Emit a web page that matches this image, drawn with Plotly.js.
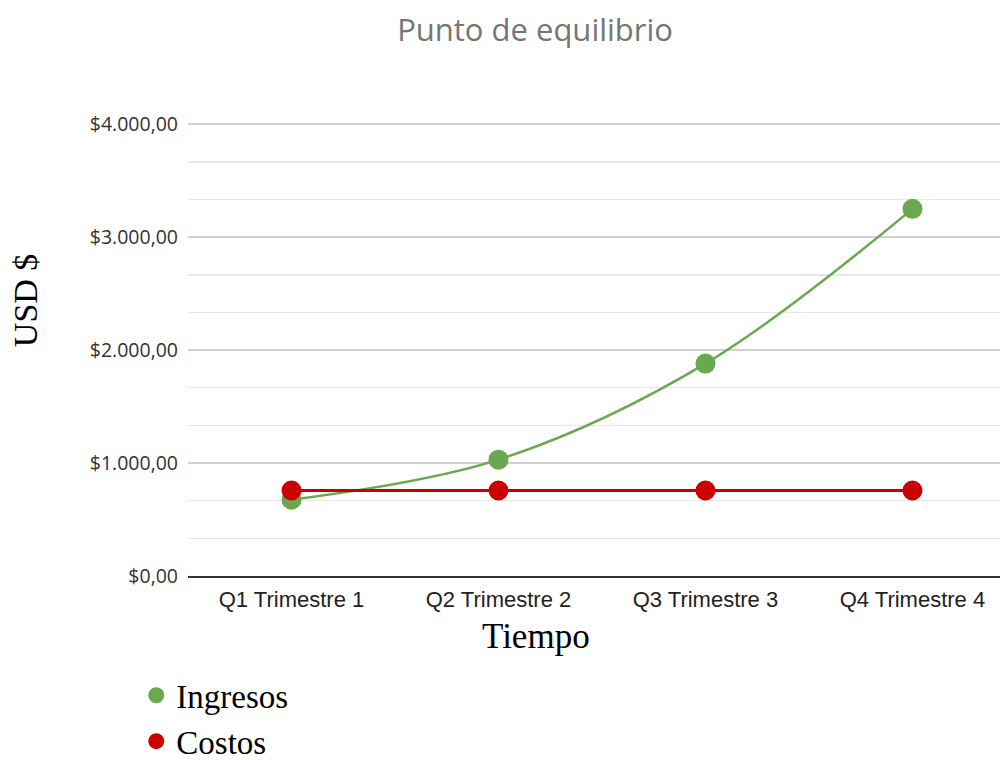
<!DOCTYPE html>
<html>
<head>
<meta charset="utf-8">
<script src="https://cdn.plot.ly/plotly-3.0.1.min.js"></script>
<style>
  html, body { margin: 0; padding: 0; background: #fff; }
  #chart { width: 1002px; height: 760px; }
</style>
</head>
<body>
<div id="chart"></div>
<script>
// Quarterly revenue vs. fixed costs (USD)
const quarters = ['Q1 Trimestre 1', 'Q2 Trimestre 2', 'Q3 Trimestre 3', 'Q4 Trimestre 4'];
const ingresos = [675, 1030, 1880, 3250];
const costos = [757, 757, 757, 757];
const yTickVals = [0, 1000, 2000, 3000, 4000];
const yTickText = ['$0,00', '$1.000,00', '$2.000,00', '$3.000,00', '$4.000,00'];

const GREEN = '#6aa84f';
const RED = '#cc0000';
const SERIF = '"Liberation Serif", "Times New Roman", serif';

const traces = [
  { x: quarters, y: ingresos, type: 'scatter', mode: 'lines', name: 'Ingresos',
    line: { color: GREEN, width: 2.5, shape: 'spline', smoothing: 1 }, showlegend: false, hoverinfo: 'skip' },
  { x: quarters, y: costos, type: 'scatter', mode: 'lines', name: 'Costos',
    line: { color: RED, width: 3 }, showlegend: false, hoverinfo: 'skip' },
  { x: quarters, y: ingresos, type: 'scatter', mode: 'markers', name: 'Ingresos',
    marker: { color: GREEN, size: 20 } },
  { x: quarters, y: costos, type: 'scatter', mode: 'markers', name: 'Costos',
    marker: { color: RED, size: 20 } }
];

const layout = {
  width: 1002, height: 760,
  margin: { l: 188, r: 2, t: 123, b: 184, autoexpand: false },
  paper_bgcolor: '#fff', plot_bgcolor: '#fff',
  title: { text: 'Punto de equilibrio', x: 0.534, xanchor: 'center', y: 0.96, yanchor: 'middle',
    font: { family: '"Open Sans", sans-serif', size: 31, color: '#757575' } },
  xaxis: {
    type: 'category', range: [-0.5, 3.423], automargin: false,
    showgrid: false, zeroline: false, showline: true, linecolor: '#333', linewidth: 1.5,
    ticks: '', ticklabelstandoff: 3,
    tickfont: { family: '"Liberation Sans", Arial, sans-serif', size: 22, color: '#222' }
  },
  yaxis: {
    range: [0, 4010], tickmode: 'array', tickvals: yTickVals, ticktext: yTickText, automargin: false,
    showgrid: true, gridcolor: '#d0d0d0', gridwidth: 1.5, zeroline: false,
    ticks: '', ticklabelstandoff: 9,
    tickfont: { family: '"Open Sans", sans-serif', size: 19.5, color: '#333' },
    minor: { tickmode: 'linear', tick0: 0, dtick: 1000 / 3, showgrid: true, gridcolor: '#e8e8e8', gridwidth: 1.5, ticks: '' }
  },
  annotations: [
    { text: 'Tiempo', xref: 'paper', yref: 'paper', x: 0.4286, y: -0.1325,
      xanchor: 'center', yanchor: 'middle', showarrow: false,
      font: { family: SERIF, size: 35, color: '#000' } },
    { text: 'USD $', xref: 'paper', yref: 'paper', x: -0.2007, y: 0.609, textangle: -90,
      xanchor: 'center', yanchor: 'middle', showarrow: false,
      font: { family: SERIF, size: 34, color: '#000' } }
  ],
  showlegend: true,
  legend: {
    xref: 'container', yref: 'container', x: 0.136, y: 0.122, xanchor: 'left', yanchor: 'top',
    orientation: 'v', tracegroupgap: 0, itemsizing: 'trace',
    font: { family: SERIF, size: 33, color: '#000' },
    bgcolor: 'rgba(0,0,0,0)'
  }
};

Plotly.newPlot('chart', traces, layout, { displayModeBar: false, staticPlot: true });
</script>
</body>
</html>
